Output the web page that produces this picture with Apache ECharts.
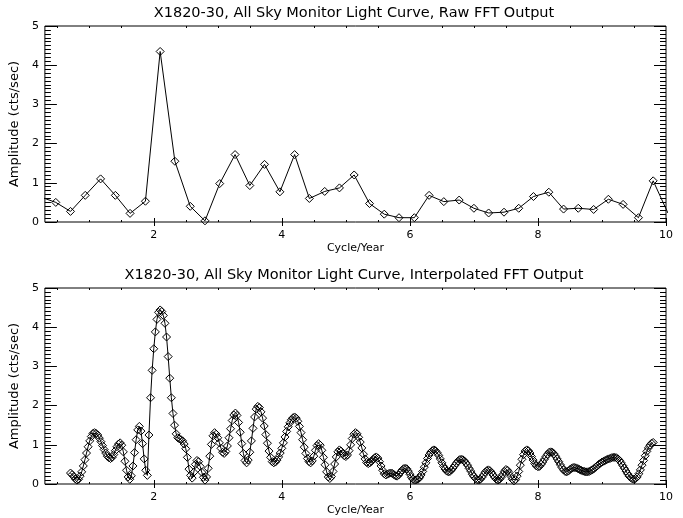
<!DOCTYPE html>
<html>
<head>
<meta charset="utf-8">
<title>X1820-30 FFT</title>
<script src="https://cdn.jsdelivr.net/npm/echarts@6/dist/echarts.min.js"></script>
<style>
html, body { margin: 0; padding: 0; background: #fff; }
#main { width: 683px; height: 518px; }
</style>
</head>
<body>
<div id="main"></div>
<script>
// raw FFT bins (cycle/year) and amplitudes
var rawFreq = [0.23, 0.47, 0.70, 0.93, 1.17, 1.40, 1.63, 1.87, 2.10, 2.33, 2.57, 2.80, 3.03, 3.27, 3.50,
  3.73, 3.97, 4.20, 4.43, 4.67, 4.90, 5.13, 5.37, 5.60, 5.83, 6.07, 6.30, 6.53, 6.77, 7.00,
  7.23, 7.47, 7.70, 7.93, 8.17, 8.40, 8.63, 8.87, 9.10, 9.33, 9.57, 9.80, 10.03];
var rawAmp = [0.64, 0.50, 0.27, 0.68, 1.10, 0.68, 0.22, 0.53, 4.35, 1.55, 0.40, 0.03, 0.98, 1.72, 0.93,
  1.47, 0.77, 1.72, 0.60, 0.78, 0.87, 1.20, 0.47, 0.20, 0.11, 0.11, 0.68, 0.52, 0.56, 0.35,
  0.23, 0.25, 0.35, 0.65, 0.76, 0.33, 0.35, 0.32, 0.58, 0.45, 0.11, 1.05, 0.23];

// interpolated FFT: frequency grid starts at 0.70 with step 0.025, amplitudes
var interpStart = 0.70;
var interpStep = 0.025;
var interpAmp = [
  0.28, 0.24, 0.19, 0.13, 0.10, 0.12, 0.20, 0.31, 0.46, 0.62, 0.79, 0.95, 1.10, 1.21, 1.29, 1.31, 1.29, 1.25, 1.17, 1.08,
  0.98, 0.88, 0.79, 0.71, 0.67, 0.65, 0.68, 0.75, 0.85, 0.95, 1.02, 1.05, 0.99, 0.82, 0.58, 0.35, 0.18, 0.12, 0.21, 0.46,
  0.80, 1.13, 1.38, 1.47, 1.35, 1.03, 0.64, 0.35, 0.22, 1.25, 2.20, 2.90, 3.45, 3.88, 4.20, 4.38, 4.44, 4.40, 4.30, 4.10,
  3.75, 3.25, 2.70, 2.20, 1.80, 1.50, 1.28, 1.18, 1.15, 1.13, 1.10, 1.02, 0.90, 0.68, 0.38, 0.22, 0.15, 0.30, 0.50, 0.60,
  0.57, 0.45, 0.30, 0.17, 0.10, 0.18, 0.40, 0.71, 1.01, 1.23, 1.31, 1.27, 1.18, 1.05, 0.91, 0.81, 0.78, 0.83, 0.97, 1.18,
  1.41, 1.62, 1.76, 1.81, 1.75, 1.57, 1.32, 1.03, 0.78, 0.60, 0.54, 0.61, 0.81, 1.10, 1.42, 1.71, 1.91, 1.98, 1.95, 1.84,
  1.68, 1.48, 1.26, 1.04, 0.84, 0.68, 0.57, 0.54, 0.56, 0.61, 0.69, 0.79, 0.91, 1.05, 1.20, 1.34, 1.46, 1.56, 1.64, 1.69,
  1.71, 1.68, 1.60, 1.47, 1.31, 1.13, 0.94, 0.78, 0.65, 0.57, 0.54, 0.59, 0.71, 0.86, 0.98, 1.03, 0.99, 0.86, 0.68, 0.49,
  0.31, 0.18, 0.14, 0.19, 0.32, 0.51, 0.69, 0.82, 0.87, 0.84, 0.78, 0.72, 0.70, 0.74, 0.85, 1.00, 1.16, 1.27, 1.31, 1.28,
  1.19, 1.07, 0.92, 0.76, 0.64, 0.55, 0.52, 0.54, 0.58, 0.63, 0.67, 0.69, 0.66, 0.57, 0.46, 0.35, 0.26, 0.23, 0.25, 0.27,
  0.28, 0.27, 0.24, 0.21, 0.20, 0.23, 0.29, 0.35, 0.39, 0.40, 0.39, 0.33, 0.25, 0.17, 0.12, 0.10, 0.11, 0.12, 0.16, 0.23,
  0.32, 0.43, 0.54, 0.65, 0.74, 0.81, 0.85, 0.87, 0.85, 0.80, 0.73, 0.64, 0.54, 0.45, 0.38, 0.33, 0.31, 0.32, 0.36, 0.41,
  0.47, 0.53, 0.58, 0.62, 0.63, 0.62, 0.59, 0.54, 0.48, 0.40, 0.33, 0.25, 0.19, 0.14, 0.11, 0.10, 0.12, 0.17, 0.23, 0.30,
  0.34, 0.36, 0.34, 0.29, 0.23, 0.17, 0.12, 0.10, 0.12, 0.17, 0.24, 0.32, 0.37, 0.35, 0.29, 0.20, 0.12, 0.08, 0.11, 0.20,
  0.32, 0.48, 0.63, 0.75, 0.84, 0.87, 0.85, 0.79, 0.70, 0.61, 0.52, 0.46, 0.44, 0.45, 0.50, 0.56, 0.63, 0.70, 0.76, 0.81,
  0.82, 0.81, 0.77, 0.71, 0.64, 0.57, 0.49, 0.42, 0.36, 0.32, 0.31, 0.33, 0.37, 0.40, 0.42, 0.42, 0.41, 0.39, 0.37, 0.35,
  0.33, 0.32, 0.31, 0.31, 0.32, 0.34, 0.36, 0.39, 0.43, 0.46, 0.50, 0.53, 0.56, 0.58, 0.60, 0.62, 0.64, 0.65, 0.67, 0.68,
  0.68, 0.67, 0.64, 0.60, 0.54, 0.47, 0.40, 0.33, 0.26, 0.20, 0.16, 0.13, 0.12, 0.14, 0.18, 0.26, 0.36, 0.48, 0.60, 0.72,
  0.83, 0.92, 0.99, 1.04, 1.06
];

var xMajor = [2, 4, 6, 8, 10];
var xMinor = [0.5, 1, 1.5, 2.5, 3, 3.5, 4.5, 5, 5.5, 6.5, 7, 7.5, 8.5, 9, 9.5];
var titles = [
  'X1820-30, All Sky Monitor Light Curve, Raw FFT Output',
  'X1820-30, All Sky Monitor Light Curve, Interpolated FFT Output'
];

var FONT = 'DejaVu Sans';
var gridTops = [26, 288];
var gridH = 196;

function pairs(xs, ys) {
  return ys.map(function (v, i) { return [xs[i], v]; });
}
var interpFreq = interpAmp.map(function (v, i) { return +(interpStart + i * interpStep).toFixed(3); });

var grids = [], xAxes = [], yAxes = [], titleList = [];
gridTops.forEach(function (top, g) {
  grids.push({ left: 43, right: 17, top: top, height: gridH, show: true,
    borderColor: '#000', borderWidth: 1, backgroundColor: 'transparent' });
  titleList.push({ text: titles[g], left: 354, top: top - 20, textAlign: 'center', padding: 0,
    textStyle: { fontFamily: FONT, fontSize: 14.5, fontWeight: 'normal', color: '#000' } });
  var base = { gridIndex: g, type: 'value', min: 0.3, max: 10,
    axisLine: { show: false }, splitLine: { show: false } };
  // major ticks + labels (bottom), major ticks (top), minor ticks both sides
  xAxes.push(Object.assign({}, base, { position: 'bottom',
    axisTick: { inside: true, length: 4, customValues: xMajor, lineStyle: { color: '#000' } },
    axisLabel: { customValues: xMajor, color: '#000', fontFamily: FONT, fontSize: 11, margin: 8 },
    name: 'Cycle/Year', nameLocation: 'middle', nameGap: 21,
    nameTextStyle: { fontFamily: FONT, fontSize: 11, color: '#000' } }));
  xAxes.push(Object.assign({}, base, { position: 'top',
    axisTick: { inside: true, length: 4, customValues: xMajor, lineStyle: { color: '#000' } },
    axisLabel: { show: false } }));
  xAxes.push(Object.assign({}, base, { position: 'top',
    axisTick: { inside: true, length: 2, customValues: xMinor, lineStyle: { color: '#000' } },
    axisLabel: { show: false } }));
  xAxes.push(Object.assign({}, base, { position: 'bottom',
    axisTick: { inside: true, length: 2, customValues: xMinor, lineStyle: { color: '#000' } },
    axisLabel: { show: false } }));

  var ybase = { gridIndex: g, type: 'value', min: 0, max: 5, interval: 1,
    axisLine: { show: false }, splitLine: { show: false },
    axisTick: { inside: true, length: 12, lineStyle: { color: '#000' } },
    minorTick: { show: true, splitNumber: 10, length: 6, lineStyle: { color: '#000' } } };
  yAxes.push(Object.assign({}, ybase, { position: 'left',
    axisLabel: { color: '#000', fontFamily: FONT, fontSize: 11, margin: 6 },
    name: 'Amplitude (cts/sec)', nameLocation: 'middle', nameGap: 18, nameRotate: 90,
    nameTextStyle: { fontFamily: FONT, fontSize: 13, color: '#000' } }));
  yAxes.push(Object.assign({}, ybase, { position: 'right', axisLabel: { show: false } }));
});

function lineSeries(g, data) {
  return {
    type: 'line', xAxisIndex: g * 4, yAxisIndex: g * 2, data: data,
    symbol: 'diamond', symbolSize: 8, showAllSymbol: true, clip: true,
    lineStyle: { color: '#000', width: 1 },
    itemStyle: { color: 'rgba(255,255,255,0)', borderColor: '#000', borderWidth: 1 }
  };
}

var chart = echarts.init(document.getElementById('main'));
chart.setOption({
  animation: false,
  backgroundColor: '#fff',
  title: titleList,
  grid: grids,
  xAxis: xAxes,
  yAxis: yAxes,
  series: [
    lineSeries(0, pairs(rawFreq, rawAmp)),
    lineSeries(1, pairs(interpFreq, interpAmp))
  ]
});
</script>
</body>
</html>
